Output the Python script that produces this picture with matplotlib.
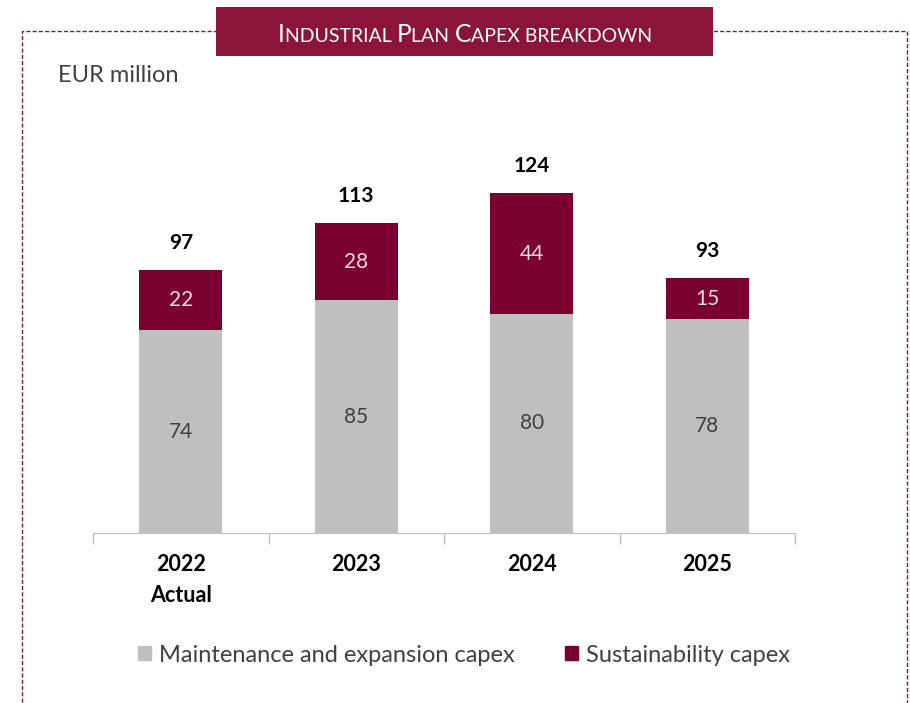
import matplotlib.pyplot as plt
from matplotlib.patches import Rectangle

plt.rcParams['font.family'] = ['Lato', 'DejaVu Sans']

years = ['2022\nActual', '2023', '2024', '2025']
maintenance = [74, 85, 80, 78]
sustainability = [22, 28, 44, 15]
totals = [97, 113, 124, 93]

grey = '#BFBFBF'
maroon = '#7A0030'
title_red = '#8A1538'

fig = plt.figure(figsize=(9.1, 7.03), dpi=100)
W, H = 910, 703

# dashed frame
frame = Rectangle((22 / W, -0.05), (907 - 22) / W, (703 - 31) / H + 0.05,
                  transform=fig.transFigure, fill=False, edgecolor=title_red,
                  linestyle=(0, (3, 1.5)), linewidth=1.0)
fig.add_artist(frame)

# title box
fig.add_artist(Rectangle((216 / W, 1 - 56 / H), (713 - 216) / W, 49 / H,
                         transform=fig.transFigure, facecolor=title_red,
                         edgecolor='none', zorder=3))

# small caps title built from pieces
pieces = [('I', 17.7), ('NDUSTRIAL ', 14), ('P', 17.7), ('LAN ', 14),
          ('C', 17.7), ('APEX BREAKDOWN', 14)]
renderer = fig.canvas.get_renderer()
texts = []
total_w = 0
for s, size in pieces:
    t = fig.text(0, 1 - 41.5 / H, s, color='white', fontsize=size,
                 ha='left', va='baseline', zorder=4)
    w = t.get_window_extent(renderer).width
    texts.append((t, w))
    total_w += w
x = 465 - total_w / 2
for t, w in texts:
    t.set_x(x / W)
    x += w

fig.text(58 / W, 1 - 76 / H, 'EUR million', fontsize=17, color='#404040',
         ha='left', va='center')

ax = fig.add_axes([93 / W, 1 - 533 / H, (795 - 93) / W, (533 - 150) / H])
pos = list(range(len(years)))
ax.bar(pos, maintenance, width=0.475, color=grey, zorder=2)
ax.bar(pos, sustainability, width=0.475, bottom=maintenance, color=maroon, zorder=2)

for i in pos:
    ax.text(i, maintenance[i] / 2, str(maintenance[i]), ha='center', va='center',
            fontsize=15, color='#404040')
    ax.text(i, maintenance[i] + sustainability[i] / 2, str(sustainability[i]),
            ha='center', va='center', fontsize=15, color='#F2DCE4')
    ax.text(i, maintenance[i] + sustainability[i] + 10, str(totals[i]),
            ha='center', va='center', fontsize=15, fontweight='bold', color='black')

ax.set_xlim(-0.5, 3.5)
ax.set_ylim(0, 139.8)
for s in ['left', 'right', 'top']:
    ax.spines[s].set_visible(False)
ax.spines['bottom'].set_color('#BFBFBF')
ax.set_yticks([])
ax.set_xticks(pos)
ax.set_xticklabels(years, fontsize=15.5, fontweight='bold', linespacing=1.6)
ax.tick_params(axis='x', length=0, pad=15)
ax.set_xticks([-0.5, 0.5, 1.5, 2.5, 3.5], minor=True)
ax.tick_params(axis='x', which='minor', length=8, color='#BFBFBF', width=1)

handles = [Rectangle((0, 0), 1, 1, color=grey), Rectangle((0, 0), 1, 1, color=maroon)]
fig.legend(handles, ['Maintenance and expansion capex', 'Sustainability capex'],
           loc='center', bbox_to_anchor=(464 / W, 1 - 655 / H), ncol=2,
           frameon=False, fontsize=17, handlelength=0.55, handleheight=0.55,
           handletextpad=0.35, columnspacing=2.1, labelcolor='#404040')

fig.savefig('out.png', dpi=100)
